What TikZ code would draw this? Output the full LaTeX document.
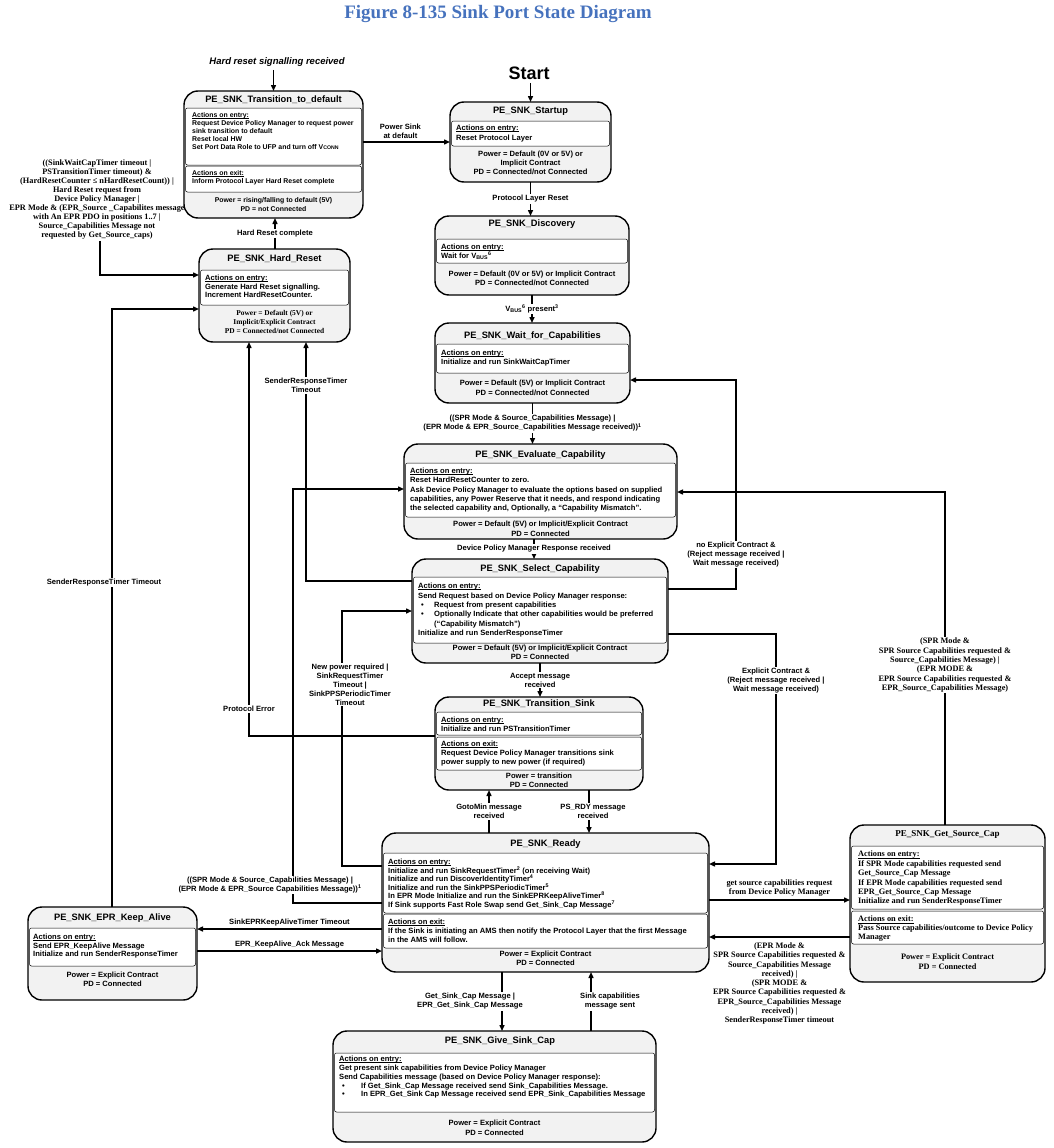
\documentclass[tikz,border=0pt]{standalone}
\usepackage{fontspec}
\setmainfont{Liberation Serif}
\setsansfont{Liberation Sans}
\usetikzlibrary{arrows.meta}
\definecolor{boxgray}{RGB}{242,242,242}
\definecolor{figblue}{RGB}{70,114,189}
\newcommand\actlabel[1]{\setbox0\hbox{#1}\rlap{\rule[-1.2pt]{\wd0}{0.45pt}}\box0}
\tikzset{
  state/.style={draw, line width=1.4pt, rounded corners=14pt, fill=boxgray, inner sep=0pt, outer sep=0pt, anchor=north west},
  sect/.style={draw, line width=0.5pt, fill=white, rounded corners=2pt},
  ttl/.style={font=\sffamily\bfseries\fontsize{9.3}{11}\selectfont, inner sep=0pt},
  body/.style={font=\sffamily\bfseries\fontsize{7.6}{#1}\selectfont, align=left, anchor=north west, inner sep=0pt},
  body/.default=9,
  sbody/.style={font=\rmfamily\bfseries\fontsize{8.3}{#1}\selectfont, align=left, anchor=north west, inner sep=0pt},
  sbody/.default=9.4,
  pwr/.style={font=\sffamily\bfseries\fontsize{7.6}{#1}\selectfont, align=center, inner sep=0pt},
  pwr/.default=9,
  spwr/.style={font=\rmfamily\bfseries\fontsize{8.3}{#1}\selectfont, align=center, inner sep=0pt},
  spwr/.default=10,
  lbl/.style={font=\sffamily\bfseries\fontsize{7.6}{9}\selectfont, align=center, fill=white, inner sep=1pt},
  slbl/.style={font=\rmfamily\bfseries\fontsize{8.3}{9.3}\selectfont, align=center, fill=white, inner sep=1pt},
  wire/.style={line width=1.4pt},
  arr/.style={wire, -{Triangle[length=6pt,width=5pt]}},
  hop/.style={radius=1.7pt},
}
\begin{document}
\begin{tikzpicture}[x=1pt,y=-1pt]
    \useasboundingbox (0,0) rectangle (1053,1148);

    \node[font=\rmfamily\bfseries\fontsize{19}{21}\selectfont, text=figblue] (fig) at (498,14) {Figure 8-135 Sink Port State Diagram};
    \node[font=\sffamily\bfseries\itshape\fontsize{9.5}{11}\selectfont] (hrs) at (277,62) {Hard reset signalling received};
    \node[font=\sffamily\bfseries\fontsize{18}{20}\selectfont] (start) at (529,73) {Start};

    % states
    \node[state, minimum width=179pt, minimum height=127pt] (t2d) at (184,91) {};
    \node[state, minimum width=161pt, minimum height=80pt] (startup) at (450,102) {};
    \node[state, minimum width=194pt, minimum height=79pt] (disc) at (435,216) {};
    \node[state, minimum width=195pt, minimum height=80pt] (wait) at (435,323) {};
    \node[state, minimum width=273pt, minimum height=95pt] (eval) at (404,444) {};
    \node[state, minimum width=256pt, minimum height=104pt] (sel) at (412,559) {};
    \node[state, minimum width=208pt, minimum height=93pt] (ts) at (435,697) {};
    \node[state, minimum width=327pt, minimum height=139pt] (ready) at (382,833) {};
    \node[state, minimum width=195pt, minimum height=157pt] (gsc) at (850,825) {};
    \node[state, minimum width=169pt, minimum height=93pt] (ka) at (28,907) {};
    \node[state, minimum width=323pt, minimum height=111pt] (gsink) at (333,1031) {};
    \node[state, minimum width=151pt, minimum height=93pt] (hr) at (199,249) {};

    \draw[sect] (185.5,108) rectangle (361.5,165);
    \draw[sect] (185.5,166) rectangle (361.5,192);
    \draw[sect] (451.5,121) rectangle (609.5,146);
    \draw[sect] (436.5,239) rectangle (627.5,263);
    \draw[sect] (436.5,344) rectangle (628.5,373);
    \draw[sect] (405.5,463) rectangle (675.5,517);
    \draw[sect] (413.5,577) rectangle (666.5,643);
    \draw[sect] (436.5,712) rectangle (641.5,735);
    \draw[sect] (436.5,737) rectangle (641.5,770);
    \draw[sect] (383.5,853) rectangle (707.5,913);
    \draw[sect] (383.5,914) rectangle (707.5,948);
    \draw[sect] (851.5,846) rectangle (1043.5,909);
    \draw[sect] (851.5,911) rectangle (1043.5,944);
    \draw[sect] (29.5,928) rectangle (195.5,966);
    \draw[sect] (334.5,1053) rectangle (654.5,1112);
    \draw[sect] (200.5,270) rectangle (348.5,305);

    % titles
    \node[ttl] (t2d-t) at (273.5,100) {PE\_SNK\_Transition\_to\_default};
    \node[ttl] (startup-t) at (530.5,111) {PE\_SNK\_Startup};
    \node[ttl] (disc-t) at (532,224) {PE\_SNK\_Discovery};
    \node[ttl] (wait-t) at (532.5,336) {PE\_SNK\_Wait\_for\_Capabilities};
    \node[ttl] (eval-t) at (540.5,455) {PE\_SNK\_Evaluate\_Capability};
    \node[ttl] (sel-t) at (540,569) {PE\_SNK\_Select\_Capability};
    \node[ttl] (ts-t) at (539,704) {PE\_SNK\_Transition\_Sink};
    \node[ttl] (ready-t) at (545.5,844) {PE\_SNK\_Ready};
    \node[ttl, font=\rmfamily\bfseries\fontsize{9}{11}\selectfont] (gsc-t) at (947.5,834) {PE\_SNK\_Get\_Source\_Cap};
    \node[ttl] (ka-t) at (112.5,918) {PE\_SNK\_EPR\_Keep\_Alive};
    \node[ttl] (gsink-t) at (500,1041) {PE\_SNK\_Give\_Sink\_Cap};
    \node[ttl] (hr-t) at (274.5,259) {PE\_SNK\_Hard\_Reset};

    % actions
    \node[body, font=\sffamily\bfseries\fontsize{6.9}{8}\selectfont] (t2d-e) at (192,112.2) {\actlabel{Actions on entry:}\\Request Device Policy Manager to request power\\sink transition to default\\Reset local HW\\Set Port Data Role to UFP and turn off V{\fontsize{5.2}{6}\selectfont CONN}};
    \node[body, font=\sffamily\bfseries\fontsize{6.9}{8}\selectfont] (t2d-x) at (192,170.2) {\actlabel{Actions on exit:}\\Inform Protocol Layer Hard Reset complete};
    \node[body=9.5] (startup-e) at (456,125) {\actlabel{Actions on entry:}\\Reset Protocol Layer};
    \node[body=8.5] (disc-e) at (441,244) {\actlabel{Actions on entry:}\\Wait for V\textsubscript{BUS}\textsuperscript{6}};
    \node[body] (wait-e) at (441,350) {\actlabel{Actions on entry:}\\Initialize and run SinkWaitCapTimer};
    \node[body=9.2] (eval-e) at (410,468) {\actlabel{Actions on entry:}\\Reset HardResetCounter to zero.\\Ask Device Policy Manager to evaluate the options based on supplied\\capabilities, any Power Reserve that it needs, and respond indicating\\the selected capability and, Optionally, a “Capability Mismatch”.};
    \node[body=9.4] (sel-e) at (418,583) {\actlabel{Actions on entry:}\\Send Request based on Device Policy Manager response:\\\makebox[16pt][l]{\hspace{3pt}\textbullet}Request from present capabilities\\\makebox[16pt][l]{\hspace{3pt}\textbullet}Optionally Indicate that other capabilities would be preferred\\\hspace*{16pt}(“Capability Mismatch”)\\Initialize and run SenderResponseTimer};
    \node[body] (ts-e) at (441,717) {\actlabel{Actions on entry:}\\Initialize and run PSTransitionTimer};
    \node[body] (ts-x) at (441,741) {\actlabel{Actions on exit:}\\Request Device Policy Manager transitions sink\\power supply to new power (if required)};
    \node[body=8.5] (ready-e) at (388,859) {\actlabel{Actions on entry:}\\Initialize and run SinkRequestTimer\textsuperscript{2} (on receiving Wait)\\Initialize and run DiscoverIdentityTimer\textsuperscript{4}\\Initialize and run the SinkPPSPeriodicTimer\textsuperscript{5}\\In EPR Mode Initialize and run the SinkEPRKeepAliveTimer\textsuperscript{8}\\If Sink supports Fast Role Swap send Get\_Sink\_Cap Message\textsuperscript{7}};
    \node[body] (ready-x) at (388,919) {\actlabel{Actions on exit:}\\If the Sink is initiating an AMS then notify the Protocol Layer that the first Message\\in the AMS will follow.};
    \node[sbody] (gsc-e) at (858,851) {\actlabel{Actions on entry:}\\If SPR Mode capabilities requested send\\Get\_Source\_Cap Message\\If EPR Mode capabilities requested send\\EPR\_Get\_Source\_Cap Message\\Initialize and run SenderResponseTimer};
    \node[sbody=9] (gsc-x) at (858,916) {\actlabel{Actions on exit:}\\Pass Source capabilities/outcome to Device Policy\\Manager};
    \node[body=8.5] (ka-e) at (33,934) {\actlabel{Actions on entry:}\\Send EPR\_KeepAlive Message\\Initialize and run SenderResponseTimer};
    \node[body=8.8] (gsink-e) at (339,1056) {\actlabel{Actions on entry:}\\Get present sink capabilities from Device Policy Manager\\Send Capabilities message (based on Device Policy Manager response):\\\makebox[22pt][l]{\hspace{3pt}\textbullet}If Get\_Sink\_Cap Message received send Sink\_Capabilities Message.\\\makebox[22pt][l]{\hspace{3pt}\textbullet}In EPR\_Get\_Sink Cap Message received send EPR\_Sink\_Capabilities Message};
    \node[body=8.5] (hr-e) at (205,275) {\actlabel{Actions on entry:}\\Generate Hard Reset signalling.\\Increment HardResetCounter.};

    % power
    \node[pwr, font=\sffamily\bfseries\fontsize{6.9}{8.5}\selectfont] (t2d-p) at (273.5,204.3) {Power = rising/falling to default (5V)\\PD = not Connected};
    \node[pwr] (startup-p) at (530.5,163) {Power = Default (0V or 5V) or\\Implicit Contract\\PD = Connected/not Connected};
    \node[pwr] (disc-p) at (532,278.5) {Power = Default (0V or 5V) or Implicit Contract\\PD = Connected/not Connected};
    \node[pwr=9.5] (wait-p) at (532.5,388) {Power = Default (5V) or Implicit Contract\\PD = Connected/not Connected};
    \node[pwr=9.5] (eval-p) at (540.5,529) {Power = Default (5V) or Implicit/Explicit Contract\\PD = Connected};
    \node[pwr] (sel-p) at (540,652.5) {Power = Default (5V) or Implicit/Explicit Contract\\PD = Connected};
    \node[pwr] (ts-p) at (539,780.5) {Power = transition\\PD = Connected};
    \node[pwr] (ready-p) at (545.5,958.5) {Power = Explicit Contract\\PD = Connected};
    \node[spwr] (gsc-p) at (947.5,962) {Power = Explicit Contract\\PD = Connected};
    \node[pwr] (ka-p) at (112.5,979.5) {Power = Explicit Contract\\PD = Connected};
    \node[pwr=10] (gsink-p) at (494.5,1128) {Power = Explicit Contract\\PD = Connected};
    \node[spwr, font=\rmfamily\bfseries\fontsize{7.4}{9}\selectfont] (hr-p) at (274.5,322) {Power = Default (5V) or\\Implicit/Explicit Contract\\PD = Connected/not Connected};

    \node[slbl, fill=none, font=\rmfamily\bfseries\fontsize{8.3}{9.1}\selectfont] (hrcond) at (97,199.5) {((SinkWaitCapTimer timeout |\\PSTransitionTimer timeout) \&\\(HardResetCounter ≤ nHardResetCount)) |\\Hard Reset request from\\Device Policy Manager |\\EPR Mode \& (EPR\_Source \_Capabilites message\\with An EPR PDO in positions 1..7 |\\Source\_Capabilities Message not\\requested by Get\_Source\_caps)};

    \coordinate (evin) at (293,489);
    \coordinate (selin) at (342,611);
    \coordinate (wtin) at (736,380);
    \coordinate (rdin) at (776,864);
    \coordinate (evr) at (945,492);

    \draw[arr] (hrs.south -| t2d.north) -- (t2d.north);
    \draw[arr] (start.south -| startup.north) -- (startup.north);
    \draw[arr] (t2d.east |- 0,142) -- node[lbl, pos=0.43, above=2pt] {Power Sink\\at default} (startup.west |- 0,142);
    \draw[arr] (startup.south) -- node[lbl] {Protocol Layer Reset} (startup.south |- disc.north);
    \draw[arr] (disc.south) -- node[lbl] {V\textsubscript{BUS}\textsuperscript{6} present\textsuperscript{3}} (disc.south |- wait.north);
    \draw[arr] (wait.south) -- node[lbl] {((SPR Mode \& Source\_Capabilities Message) |\\(EPR Mode \& EPR\_Source\_Capabilities Message received))\textsuperscript{1}} (wait.south |- eval.north);
    \draw[arr] (eval.south -| 534,0) -- node[lbl] {Device Policy Manager Response received} (sel.north -| 534,0);
    \draw[arr] (sel.south) -- node[lbl] {Accept message\\received} (sel.south |- ts.north);
    \draw[arr] (ts.south -| 589,0) -- node[lbl, xshift=4pt] {PS\_RDY message\\received} (ready.north -| 589,0);
    \draw[arr] (ready.north -| 489,0) -- node[lbl] {GotoMin message\\received} (ts.south -| 489,0);
    \draw[arr] (ready.south -| 502,0) -- node[lbl, xshift=-32pt] {Get\_Sink\_Cap Message |\\EPR\_Get\_Sink\_Cap Message} (gsink.north -| 502,0);
    \draw[arr] (gsink.north -| 591,0) -- node[lbl, xshift=19pt] {Sink capabilities\\message sent} (ready.south -| 591,0);
    \draw[arr] (hr.north -| 275,0) -- node[lbl] {Hard Reset complete} (t2d.south -| 275,0);
    \draw[arr] (hrcond.south -| 100,0) |- (hr.west |- 0,275);
    \draw[arr] (ka.north -| 112,0) |- node[lbl, pos=0.271, xshift=-8pt] {SenderResponseTimer Timeout} (hr.west |- 0,309);
    \draw[arr] (sel.west |- 0,581) -| node[lbl, pos=0.909] {SenderResponseTimer\\Timeout} (hr.south -| 306,0);
    \draw[arr] (ts.west |- 0,736) -| node[lbl, pos=0.534] {Protocol Error} (hr.south -| 249,0);
    \draw[arr] (ready.west |- 0,903) -| node[lbl, pos=0.522, xshift=-23pt] {((SPR Mode \& Source\_Capabilities Message) |\\(EPR Mode \& EPR\_Source Capabilities Message))\textsuperscript{1}} (evin) -- (eval.west |- evin);
    \draw[arr] (ready.west |- 0,866) -| node[lbl, pos=0.856, xshift=8pt] {New power required |\\SinkRequestTimer\\Timeout |\\SinkPPSPeriodicTimer\\Timeout} (selin) -- (sel.west |- selin);
    \draw[arr] (ready.west |- 0,929) -- node[lbl, above=1pt] {SinkEPRKeepAliveTimer Timeout} (ka.east |- 0,929);
    \draw[arr] (ka.east |- 0,951) -- node[lbl, above=1pt] {EPR\_KeepAlive\_Ack Message} (ready.west |- 0,951);
    \draw[arr] (sel.east |- 0,589) -| node[lbl, pos=0.5825] {no Explicit Contract \&\\(Reject message received |\\Wait message received)} (wtin) -- (wait.east |- wtin);
    \draw[arr] (sel.east |- 0,634) -| node[lbl, pos=0.601] {Explicit Contract \&\\(Reject message received |\\Wait message received)} (rdin) -- (ready.east |- rdin);
    \draw[arr] (gsc.north -| evr) |- node[slbl, pos=0.24] {(SPR Mode \&\\SPR Source Capabilities requested \&\\Source\_Capabilities Message) |\\(EPR MODE \&\\EPR Source Capabilities requested \&\\EPR\_Source\_Capabilities Message)} (eval.east |- evr);
    \draw[arr] (ready.east |- 0,900) -- node[slbl, above=2pt] {get source capabilities request\\from Device Policy Manager} (gsc.west |- 0,900);
    \draw[arr] (gsc.west |- 0,937) -- node[slbl, below=4pt] {(EPR Mode \&\\SPR Source Capabilities requested \&\\Source\_Capabilities Message\\received) |\\(SPR MODE \&\\EPR Source Capabilities requested \&\\EPR\_Source\_Capabilities Message\\received) |\\SenderResponseTimer timeout} (ready.east |- 0,937);

    \fill[hop] (306,489) circle;
    \fill[hop] (293,736) circle;
    \fill[hop] (342,736) circle;
    \fill[hop] (736,492) circle;
\end{tikzpicture}
\end{document}
